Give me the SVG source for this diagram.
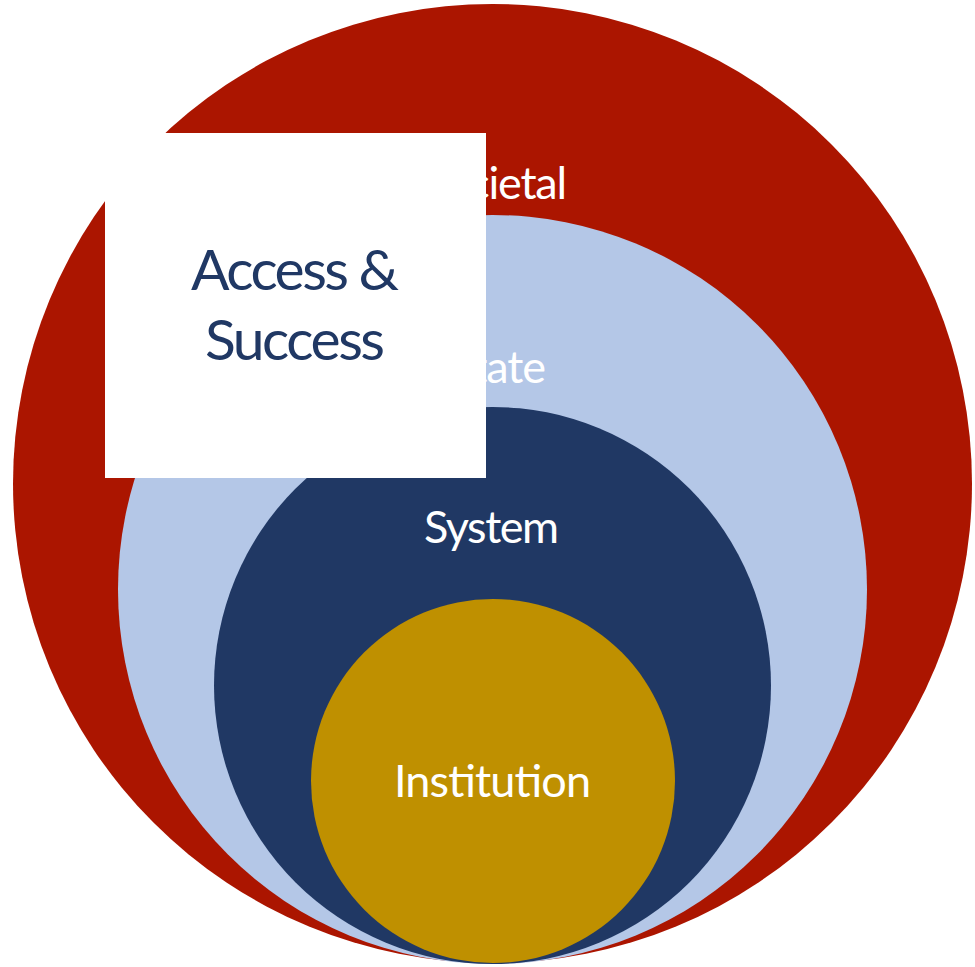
<svg xmlns="http://www.w3.org/2000/svg" width="975" height="967" viewBox="0 0 975 967">
<style>
.lbl{font-family:Lato,"Open Sans","Liberation Sans",sans-serif;font-size:45px;fill:#ffffff}
.box{font-family:Lato,"Open Sans","Liberation Sans",sans-serif;font-size:57px;fill:#203864}
</style>
<rect width="975" height="967" fill="#ffffff"/>
<g id="societal">
<circle cx="492.5" cy="483.5" r="479.5" fill="#AB1500"/>
<text class="lbl" x="421" y="199" textLength="146">Societal</text>
</g>
<g id="state">
<circle cx="492.5" cy="589.5" r="374.5" fill="#B4C7E7"/>
<text class="lbl" x="449" y="383" textLength="97">State</text>
</g>
<g id="system">
<circle cx="492.5" cy="685.5" r="278.5" fill="#203864"/>
<text class="lbl" x="424" y="543" textLength="135">System</text>
</g>
<g id="institution">
<circle cx="493" cy="781" r="182" fill="#BF9000"/>
<text class="lbl" x="394" y="797" textLength="197">Institution</text>
</g>
<g id="access-success">
<rect x="105" y="133" width="381" height="345" fill="#ffffff"/>
<text class="box" x="191" y="290" textLength="208">Access &amp;</text>
<text class="box" x="205" y="360" textLength="180">Success</text>
</g>
<g id="connectors"/>
</svg>
